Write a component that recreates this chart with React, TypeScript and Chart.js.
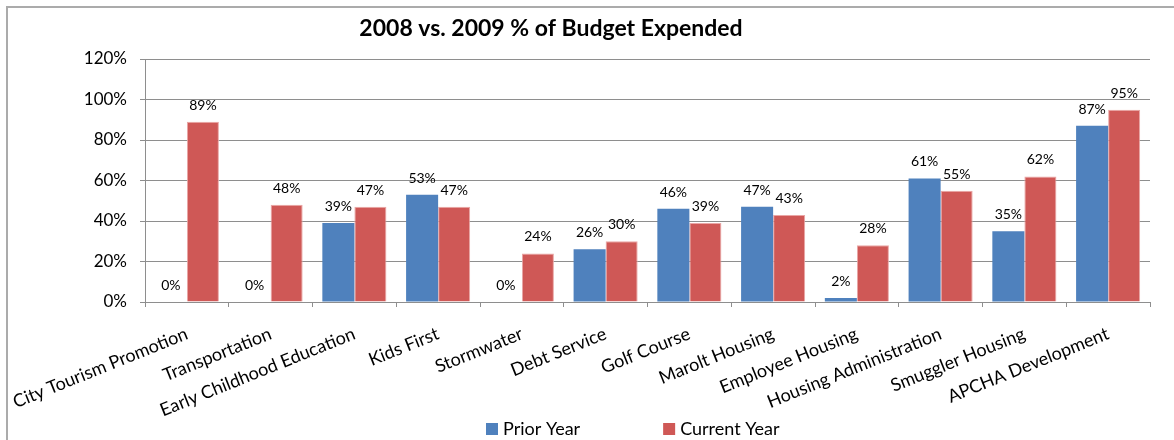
import React, { useEffect, useRef } from 'react';
import { Chart, registerables } from 'chart.js';

Chart.register(...registerables);

const titleText = '2008 vs. 2009 % of Budget Expended';
const categories = [
  'City Tourism Promotion',
  'Transportation',
  'Early Childhood Education',
  'Kids First',
  'Stormwater',
  'Debt Service',
  'Golf Course',
  'Marolt Housing',
  'Employee Housing',
  'Housing Administration',
  'Smuggler Housing',
  'APCHA Development',
];
const seriesNames = ['Prior Year', 'Current Year'];
const priorYear = [0, 0, 39, 53, 0, 26, 46, 47, 2, 61, 35, 87];
const currentYear = [89, 48, 47, 47, 24, 30, 39, 43, 28, 55, 62, 95];
const yMin = 0;
const yMax = 120;
const yStep = 20;

const FONT = 'Lato';
const GRID = '#8e8e8e';

const decorPlugin = {
  id: 'decor',
  beforeDraw(chart: any) {
    const ctx = chart.ctx;
    ctx.save();
    ctx.fillStyle = '#ffffff';
    ctx.fillRect(0, 0, chart.width, chart.height);
    ctx.strokeStyle = '#ababab';
    ctx.lineWidth = 2;
    ctx.strokeRect(7, 7, 1300, 600);
    ctx.restore();
  },
  afterDatasetsDraw(chart: any) {
    const ctx = chart.ctx;
    ctx.save();
    ctx.font = `14px ${FONT}`;
    ctx.fillStyle = '#000';
    ctx.textAlign = 'center';
    ctx.textBaseline = 'alphabetic';
    chart.data.datasets.forEach((ds: any, i: number) => {
      const meta = chart.getDatasetMeta(i);
      meta.data.forEach((el: any, j: number) => {
        ctx.fillText(`${ds.data[j]}%`, el.x, el.y - 12);
      });
    });
    ctx.restore();
  },
  afterDraw(chart: any) {
    const ctx = chart.ctx;
    ctx.save();
    // title
    ctx.font = `bold 23px ${FONT}`;
    ctx.fillStyle = '#000';
    ctx.textAlign = 'center';
    ctx.textBaseline = 'alphabetic';
    ctx.fillText(titleText, 551, 36);
    // legend
    ctx.font = `18px ${FONT}`;
    ctx.textAlign = 'left';
    let x = 486;
    chart.data.datasets.forEach((ds: any) => {
      ctx.fillStyle = ds.backgroundColor;
      ctx.fillRect(x, 423, 12, 12);
      ctx.fillStyle = '#000';
      ctx.fillText(ds.label, x + 17, 435);
      x += 17 + ctx.measureText(ds.label).width + 83;
    });
    ctx.restore();
  },
};

export default function App() {
  const ref = useRef<HTMLCanvasElement | null>(null);
  useEffect(() => {
    document.body.style.margin = '0';
    document.body.style.overflow = 'hidden';
    const canvas = ref.current;
    if (!canvas) return;
    const chart = new Chart(canvas, {
      type: 'bar',
      data: {
        labels: categories,
        datasets: [
          {
            label: seriesNames[0],
            data: priorYear,
            backgroundColor: '#4f81bd',
            borderWidth: 0,
            categoryPercentage: 0.765,
            barPercentage: 1,
          },
          {
            label: seriesNames[1],
            data: currentYear,
            backgroundColor: '#cf5856',
            borderColor: '#eaa6a5',
            borderWidth: 1,
            categoryPercentage: 0.765,
            barPercentage: 1,
          },
        ],
      },
      options: {
        responsive: false,
        animation: false,
        layout: { padding: { left: 10, top: 59, right: 24, bottom: 0 } },
        plugins: {
          legend: { display: false },
          title: { display: false },
          tooltip: { enabled: false },
        },
        scales: {
          x: {
            grid: {
              offset: true,
              drawOnChartArea: false,
              drawTicks: true,
              tickLength: 5,
              color: GRID,
            },
            border: { color: GRID, width: 1 },
            ticks: {
              autoSkip: false,
              minRotation: 22,
              maxRotation: 22,
              padding: 16,
              color: '#000',
              font: { family: FONT, size: 18 },
            },
            afterFit(scale: any) {
              scale.height = 138;
              scale.paddingLeft = 0;
              scale.paddingRight = 0;
            },
          },
          y: {
            min: yMin,
            max: yMax,
            grid: { color: GRID, tickLength: 5 },
            border: { color: GRID, width: 1 },
            ticks: {
              stepSize: yStep,
              padding: 13,
              color: '#000',
              font: { family: FONT, size: 17 },
              callback: (v: any) => `${v}%`,
            },
            afterFit(scale: any) {
              scale.width = 135;
            },
          },
        },
      },
      plugins: [decorPlugin],
    } as any);
    return () => chart.destroy();
  }, []);
  return <canvas ref={ref} width={1174} height={440} style={{ display: 'block' }} />;
}
